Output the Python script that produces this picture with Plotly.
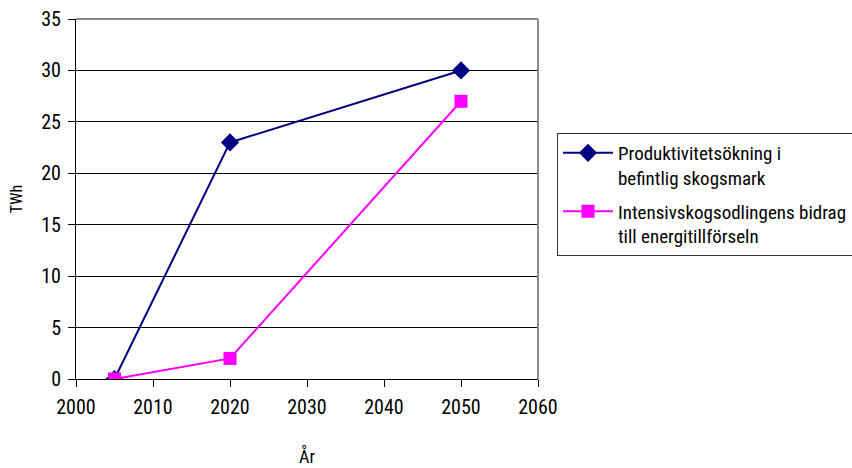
import plotly.graph_objects as go

# Energy contribution (TWh) per year
years = [2005, 2020, 2050]
produktivitet = [0, 23, 30]
intensiv = [0, 2, 27]

name_prod = "Produktivitetsökning i<br>befintlig skogsmark"
name_int = "Intensivskogsodlingens bidrag<br>till energitillförseln"

x_ticks = [2000, 2010, 2020, 2030, 2040, 2050, 2060]
y_ticks = [0, 5, 10, 15, 20, 25, 30, 35]

FONT = "Roboto Condensed, DejaVu Sans Condensed, sans-serif"

fig = go.Figure()
fig.add_trace(go.Scatter(
    x=years, y=produktivitet, name=name_prod, mode="lines+markers", legendgroup="prod",
    line=dict(color="#000080", width=2),
    marker=dict(symbol="diamond", size=14, color="#000080"),
))
fig.add_trace(go.Scatter(
    x=years, y=intensiv, name=name_int, mode="lines+markers", legendgroup="int",
    line=dict(color="#FF00FF", width=2),
    marker=dict(symbol="square", size=13, color="#FF00FF"),
))

fig.update_layout(
    width=852, height=468,
    margin=dict(l=76, r=314, t=19, b=89),
    paper_bgcolor="white", plot_bgcolor="white",
    font=dict(family=FONT, size=20, color="black"),
    showlegend=True,
    legend=dict(
        xref="container", yref="container",
        x=557 / 852, y=1 - 133 / 468, xanchor="left", yanchor="top",
        bordercolor="#333333", borderwidth=1, bgcolor="white",
        font=dict(family=FONT, size=19, color="black"),
        itemwidth=50, tracegroupgap=6, valign="top",
    ),
    xaxis=dict(
        range=[2000, 2060], tickvals=x_ticks, ticktext=[str(v) for v in x_ticks],
        showgrid=False, zeroline=False, automargin=False,
        showline=True, linecolor="black", linewidth=1,
        ticks="outside", ticklen=7, tickcolor="black", ticklabelstandoff=3,
        title=dict(text="År", font=dict(family=FONT, size=18), standoff=32),
    ),
    yaxis=dict(
        range=[0, 35], tickvals=y_ticks,
        showgrid=True, gridcolor="black", gridwidth=1, zeroline=False, automargin=False,
        showline=True, linecolor="black", linewidth=1,
        ticks="outside", ticklen=7, tickcolor="black", ticklabelstandoff=3,
        title=dict(text="TWh", font=dict(family=FONT, size=16), standoff=14),
    ),
    shapes=[
        dict(type="line", xref="x domain", yref="y domain", x0=0, x1=1, y0=1, y1=1,
             line=dict(color="#8c8c8c", width=2)),
        dict(type="line", xref="x domain", yref="y domain", x0=1, x1=1, y0=0, y1=1,
             line=dict(color="#8c8c8c", width=2)),
    ],
)

fig.write_html("out.html")
